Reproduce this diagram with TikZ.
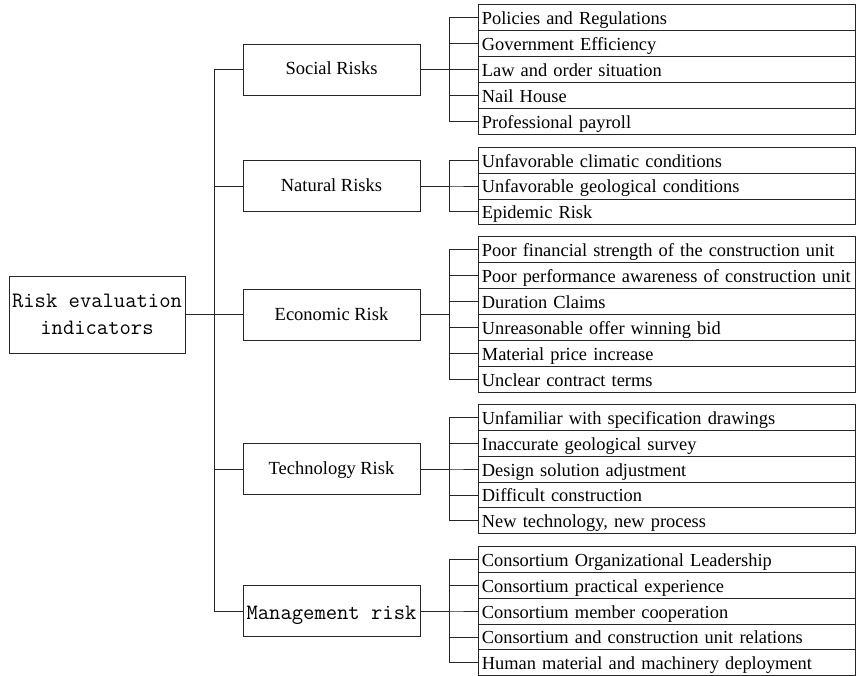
\documentclass[tikz,border=0pt]{standalone}
\usepackage{fontspec}
\setmainfont{Liberation Serif}
\usetikzlibrary{positioning}
\tikzset{box/.style = {draw=black!85, line width=0.8pt, inner sep=0pt},
         rootbox/.style = {box, minimum width=176pt, minimum height=77pt, align=center,
                           font=\ttfamily\fontsize{22}{27}\selectfont},
         catbox/.style = {box, minimum width=177pt, minimum height=51pt,
                          text height=13pt, text depth=2pt,
                          font=\fontsize{18.5}{22}\selectfont},
         mcatbox/.style = {catbox, text height=16pt, text depth=0pt,
                           font=\ttfamily\fontsize{22}{27}\selectfont},
         leafbox/.style = {box, anchor=west, minimum height=25.9pt, text width=370pt,
                           inner xsep=3.5pt, align=left, text height=16pt, text depth=2pt,
                           font=\fontsize{18.4}{20}\selectfont},
         link/.style = {draw=black!85, line width=0.8pt}}

\begin{document}
\begin{tikzpicture}[x=1pt, y=-1pt]
      \useasboundingbox (0, 0) rectangle (856, 676);

      \node [rootbox] (root) at (97, 314.5) {Risk evaluation\\indicators};

      \node [catbox] (social) at (331.5, 69.5) {Social Risks};
      \node [catbox] (natural) at (331.5, 186) {Natural Risks};
      \node [catbox] (economic) at (331.5, 314.5) {Economic Risk};
      \node [catbox] (technology) at (331.5, 469) {Technology Risk};
      \node [mcatbox] (management) at (331.5, 611) {Management risk};

      \foreach \cat in {social, natural, economic, technology, management}
        \draw [link] (root.east) -- ++(29, 0) |- (\cat.west);

      \foreach \txt [count=\i] in {Policies and Regulations, Government Efficiency,
          Law and order situation, Nail House, Professional payroll} {
        \node [leafbox] (social-\i) at (478, {69.5 + (\i - 3) * 25.9}) {\txt};
        \draw [link] (social.east) -- ++(29, 0) |- (social-\i.west);
      }

      \foreach \txt [count=\i] in {Unfavorable climatic conditions,
          Unfavorable geological conditions, Epidemic Risk} {
        \node [leafbox] (natural-\i) at (478, {186 + (\i - 2) * 25.9}) {\txt};
        \draw [link] (natural.east) -- ++(29, 0) |- (natural-\i.west);
      }

      \foreach \txt [count=\i] in {Poor financial strength of the construction unit,
          Poor performance awareness of construction unit, Duration Claims,
          Unreasonable offer winning bid, Material price increase,
          Unclear contract terms} {
        \node [leafbox] (economic-\i) at (478, {314.5 + (\i - 3.5) * 25.9}) {\txt};
        \draw [link] (economic.east) -- ++(29, 0) |- (economic-\i.west);
      }

      \foreach \txt [count=\i] in {Unfamiliar with specification drawings,
          Inaccurate geological survey, Design solution adjustment,
          Difficult construction, {New technology, new process}} {
        \node [leafbox] (technology-\i) at (478, {469 + (\i - 3) * 25.9}) {\txt};
        \draw [link] (technology.east) -- ++(29, 0) |- (technology-\i.west);
      }

      \foreach \txt [count=\i] in {Consortium Organizational Leadership,
          Consortium practical experience, Consortium member cooperation,
          Consortium and construction unit relations,
          Human material and machinery deployment} {
        \node [leafbox] (management-\i) at (478, {611 + (\i - 3) * 25.9}) {\txt};
        \draw [link] (management.east) -- ++(29, 0) |- (management-\i.west);
      }
    \end{tikzpicture}
\end{document}
